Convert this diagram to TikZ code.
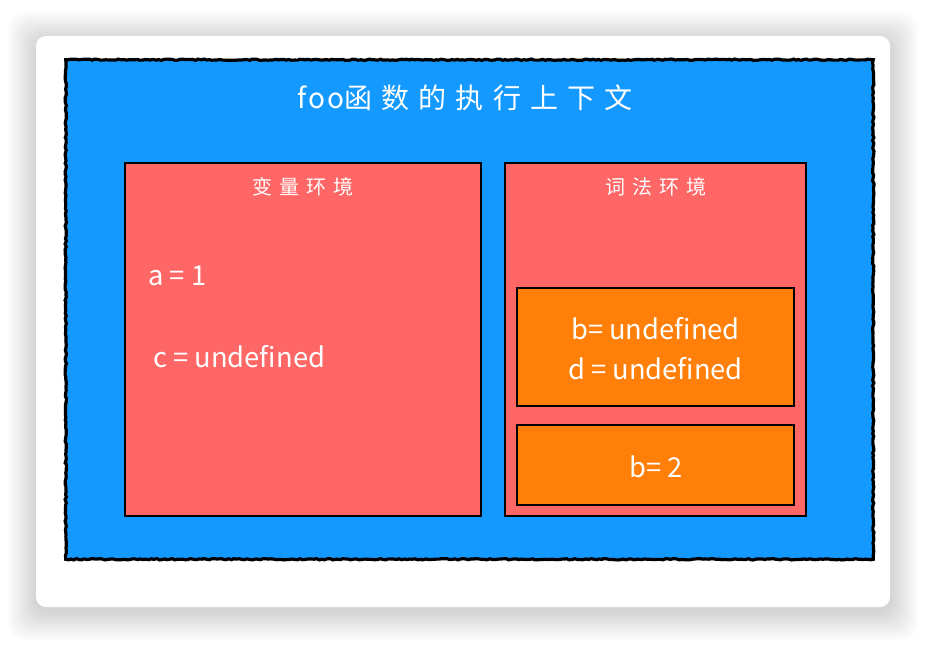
\documentclass[tikz,border=0pt]{standalone}
\usepackage{fontspec}
\setmainfont{Noto Sans CJK SC}
\usetikzlibrary{positioning,shapes,decorations.pathmorphing}

\definecolor{ctxblue}{RGB}{19,153,255}
\definecolor{envred}{RGB}{255,102,102}
\definecolor{recorange}{RGB}{255,127,8}

\begin{document}
\begin{tikzpicture}[x=0.75pt,y=-0.75pt,
  box/.style={shape=rectangle,draw=black,line width=1.5pt,inner sep=0pt},
  rough/.style={draw=black,line width=2.4pt,decorate,decoration={random steps,segment length=2pt,amplitude=0.5pt}},
  label/.style={text=white,inner sep=0pt},
  title/.style={label,font=\fontsize{21}{24}\selectfont},
  subtitle/.style={label,font=\fontsize{15}{18}\selectfont\addfontfeature{LetterSpace=35}},
  value/.style={label,font=\fontsize{20.5}{30}\selectfont}]
\useasboundingbox (0,0) rectangle (926,644);
% soft shadow under the card
\foreach \i in {1,...,14}
  \fill[black,opacity=0.011,rounded corners=12pt] (36-2*\i,40-2*\i) rectangle (890+2*\i,612+2*\i);
\node(card) at (463,321.5) [shape=rectangle,fill=white,rounded corners=7.5pt,minimum width=640.5pt,minimum height=428.25pt,inner sep=0pt] {};
\node[fill=ctxblue,inner sep=0pt](ctx) at (469.5,309.5) [minimum width=605.25pt,minimum height=374.25pt] {};
\draw[rough] (ctx.north west) rectangle (ctx.south east);
\node(ctxname) at (465,98) [title] {{\addfontfeature{LetterSpace=8}foo}{\addfontfeature{LetterSpace=33}函数的执行上下文}};
\node[box,fill=envred](varenv) at (303,339.5) [minimum width=267pt,minimum height=264.75pt] {};
\node[box,fill=envred](lexenv) at (655.5,339.5) [minimum width=225.75pt,minimum height=264.75pt] {};
\node(varname) at (303,187) [subtitle] {变量环境};
\node(lexname) at (655.5,187) [subtitle] {词法环境};
\node[anchor=west](a) at (148,276) [value] {a = 1};
\node[anchor=west](c) at (153,357) [value] {c = undefined};
\node[box,fill=recorange](block) at (655.5,347) [minimum width=207.75pt,minimum height=88.5pt] {};
\node[box,fill=recorange](outer) at (655.5,465) [minimum width=207.75pt,minimum height=60pt] {};
\node(bd) at (655.5,349) [value,align=center] {b= undefined\\d = undefined};
\node(b) at (656,467) [value] {b= 2};
\end{tikzpicture}
\end{document}
